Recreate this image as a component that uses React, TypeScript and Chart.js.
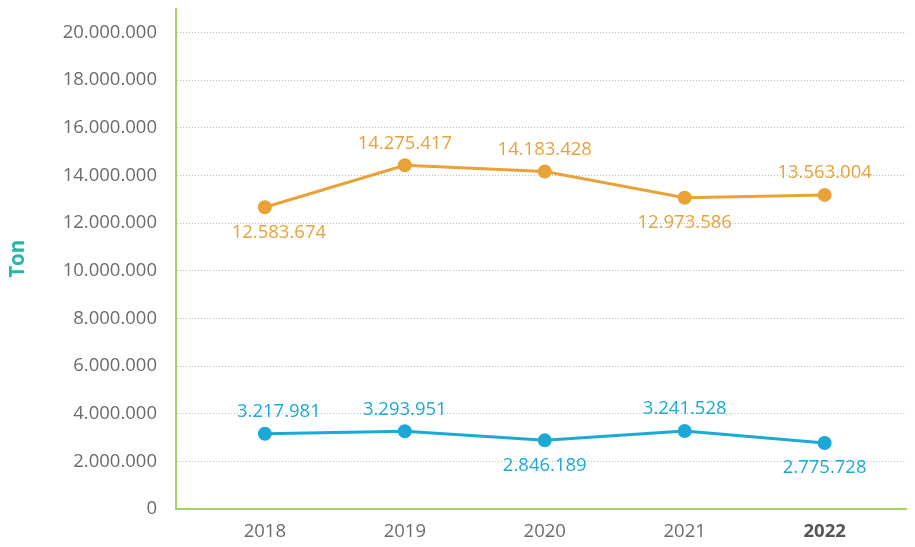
import React, { useEffect, useRef } from "react";
import { Chart, registerables } from "chart.js";

Chart.register(...registerables);

const categories = ["2018", "2019", "2020", "2021", "2022"];
const orangeValues = [12660000, 14420000, 14160000, 13060000, 13180000];
const orangeLabels = ["12.583.674", "14.275.417", "14.183.428", "12.973.586", "13.563.004"];
const orangeLabelPos = ["below", "above", "above", "below", "above"];
const blueValues = [3160000, 3260000, 2880000, 3270000, 2770000];
const blueLabels = ["3.217.981", "3.293.951", "2.846.189", "3.241.528", "2.775.728"];
const blueLabelPos = ["above", "above", "below", "above", "below"];
const yTicks = [0, 2000000, 4000000, 6000000, 8000000, 10000000, 12000000, 14000000, 16000000, 18000000, 20000000];
const yTitle = "Ton";

const ORANGE = "#E8A238";
const BLUE = "#1BA9D6";
const GREEN = "#A0D468";
const TEAL = "#22B8A8";
const GRAY = "#6B6B6B";
const FONT = "'Open Sans', sans-serif";

const fmt = (v: number) => String(Math.round(v)).replace(/\B(?=(\d{3})+(?!\d))/g, ".");

const labelShiftX = [14, 0, 0, 0, 0];

const dataLabelPlugin = {
  id: "pointLabels",
  afterDatasetsDraw(chart: any) {
    const ctx = chart.ctx;
    chart.data.datasets.forEach((ds: any, di: number) => {
      const meta = chart.getDatasetMeta(di);
      ctx.save();
      ctx.font = `18.5px ${FONT}`;
      ctx.fillStyle = ds.borderColor;
      ctx.textAlign = "center";
      ctx.textBaseline = "middle";
      meta.data.forEach((pt: any, i: number) => {
        const above = ds.labelPos[i] === "above";
        const y = pt.y + (above ? -22 : 25);
        ctx.fillText(ds.labelTexts[i], pt.x + labelShiftX[i], y);
      });
      ctx.restore();
    });
  },
};

export default function App() {
  const ref = useRef<HTMLCanvasElement | null>(null);
  useEffect(() => {
    if (!ref.current) return;
    const years = categories.map((c) => Number(c));
    const chart = new Chart(ref.current, {
      type: "line",
      data: {
        datasets: [
          {
            label: "Orange",
            data: years.map((x, i) => ({ x, y: orangeValues[i] })),
            borderColor: ORANGE,
            backgroundColor: ORANGE,
            borderWidth: 3,
            pointRadius: 5.5,
            pointHoverRadius: 5.5,
            tension: 0,
            labelTexts: orangeLabels,
            labelPos: orangeLabelPos,
          } as any,
          {
            label: "Blue",
            data: years.map((x, i) => ({ x, y: blueValues[i] })),
            borderColor: BLUE,
            backgroundColor: BLUE,
            borderWidth: 3,
            pointRadius: 5.5,
            pointHoverRadius: 5.5,
            tension: 0,
            labelTexts: blueLabels,
            labelPos: blueLabelPos,
          } as any,
        ],
      },
      options: {
        animation: false,
        responsive: false,
        devicePixelRatio: 1,
        layout: { padding: { top: 8, right: 7, left: 0, bottom: 0 } },
        plugins: { legend: { display: false }, tooltip: { enabled: false } },
        scales: {
          x: {
            type: "linear",
            min: 2017.365,
            max: 2022.585,
            afterBuildTicks: (scale: any) => {
              scale.ticks = years.map((v) => ({ value: v }));
            },
            afterFit: (scale: any) => {
              scale.height = 38;
              scale.paddingLeft = 0;
              scale.paddingRight = 0;
            },
            grid: { display: false, drawTicks: false },
            border: { display: true, color: GREEN, width: 2 },
            ticks: {
              padding: 12,
              color: (c: any) => (c.tick && c.tick.value === 2022 ? "#555555" : GRAY),
              font: (c: any) =>
                c.tick && c.tick.value === 2022
                  ? { family: FONT, size: 18.5, weight: "bold" }
                  : { family: FONT, size: 18.5 },
              callback: (v: any) => String(v),
            },
          },
          y: {
            min: 0,
            max: 21000000,
            afterBuildTicks: (scale: any) => {
              scale.ticks = yTicks.map((v) => ({ value: v }));
            },
            afterFit: (scale: any) => {
              scale.width = 176;
              scale.paddingTop = 0;
              scale.paddingBottom = 0;
            },
            grid: {
              drawTicks: false,
              color: "#BDBDBD",
              lineWidth: 1,
            },
            border: { display: true, color: GREEN, width: 2, dash: [1, 2] },
            ticks: {
              padding: 19,
              color: GRAY,
              font: { family: FONT, size: 18.5 },
              callback: (v: any) => fmt(Number(v)),
            },
            title: {
              display: true,
              text: yTitle,
              color: TEAL,
              font: { family: FONT, size: 20.5, weight: "bold" },
              padding: { top: 6, bottom: 0 },
            },
          },
        },
      },
      plugins: [dataLabelPlugin],
    });
    return () => chart.destroy();
  }, []);
  return (
    <canvas
      ref={ref}
      width={915}
      height={547}
      style={{ position: "absolute", left: 0, top: 0, width: 915, height: 547 }}
    />
  );
}
